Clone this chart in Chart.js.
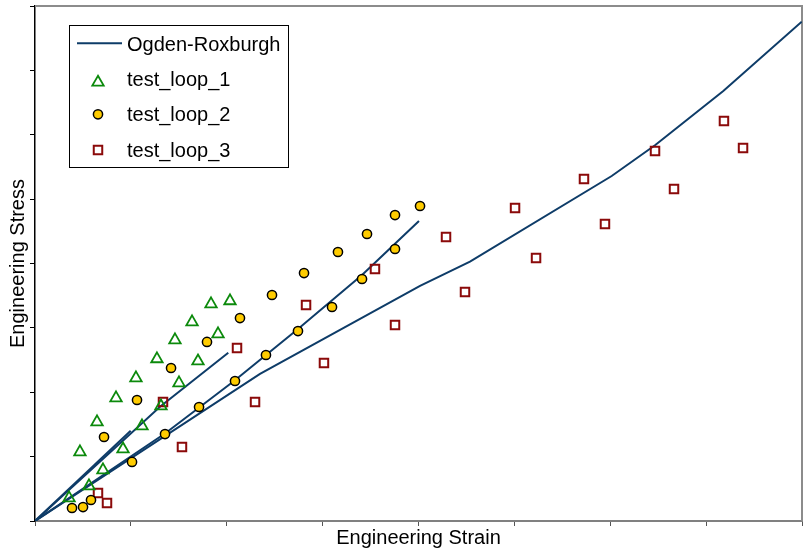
<!DOCTYPE html>
<html>
<head>
<meta charset="utf-8">
<script src="https://cdn.jsdelivr.net/npm/chart.js@4.4.1/dist/chart.umd.min.js"></script>
<style>
  html, body { margin: 0; padding: 0; background: #ffffff; }
  #wrap { position: relative; width: 804px; height: 556px; }
</style>
</head>
<body>
<div id="wrap"><canvas id="c" width="804" height="556"></canvas></div>
<script>
// ---------------- data ----------------
const xTitle = 'Engineering Strain';
const yTitle = 'Engineering Stress';
const xTickValues = [0, 1, 2, 3, 4, 5, 6, 7, 8];
const yTickValues = [0, 1, 2, 3, 4, 5, 6, 7, 8];

const modelLabel = 'Ogden-Roxburgh';
const model1Strain = [0, 0.998];
const model1Stress = [0, 1.403];
const model2Strain = [0, 1.304, 2.016];
const model2Stress = [0, 1.776, 2.614];
const model3Strain = [0, 1.363, 2.076, 2.743, 3.411, 4.005];
const model3Stress = [0, 1.367, 2.175, 2.983, 3.821, 4.660];
const model4Strain = [0, 2.347, 4.016, 4.537, 6.015, 6.470, 7.179, 7.997];
const model4Stress = [0, 2.284, 3.651, 4.028, 5.359, 5.841, 6.680, 7.756];

const loop1Label = 'test_loop_1';
const loop1Strain = [0.355, 0.469, 0.563, 0.647, 0.709, 0.845, 0.918, 1.053, 1.116, 1.272, 1.314, 1.460, 1.502, 1.638, 1.700, 1.836, 1.909, 2.034];
const loop1Stress = [0.357, 1.072, 0.544, 1.538, 0.792, 1.911, 1.118, 2.221, 1.476, 2.517, 1.786, 2.812, 2.144, 3.091, 2.485, 3.371, 2.905, 3.418];

const loop2Label = 'test_loop_2';
const loop2Strain = [0.386, 0.501, 0.584, 0.720, 1.012, 1.064, 1.356, 1.419, 1.711, 1.794, 2.086, 2.138, 2.409, 2.472, 2.743, 2.806, 3.098, 3.160, 3.411, 3.463, 3.755, 3.755, 4.016];
const loop2Stress = [0.202, 0.217, 0.326, 1.305, 0.917, 1.880, 1.351, 2.377, 1.771, 2.781, 2.175, 3.153, 2.579, 3.511, 2.951, 3.852, 3.324, 4.179, 3.759, 4.458, 4.753, 4.225, 4.893];

const loop3Label = 'test_loop_3';
const loop3Strain = [0.657, 0.751, 1.335, 1.533, 2.107, 2.295, 2.827, 3.014, 3.546, 3.755, 4.287, 4.485, 5.007, 5.226, 5.726, 5.945, 6.467, 6.665, 7.186, 7.385];
const loop3Stress = [0.435, 0.280, 1.849, 1.150, 2.687, 1.849, 3.355, 2.454, 3.915, 3.045, 4.412, 3.557, 4.862, 4.085, 5.313, 4.614, 5.748, 5.157, 6.214, 5.794];

// ---------------- styles ----------------
const FONT = '"Liberation Sans", Arial, Helvetica, sans-serif';
const lineColor = '#0e3c68';
const triColor = '#0c8a0c';
const circFill = '#ffcc00';
const sqColor = '#8b0a0a';

const pts = (xs, ys) => xs.map((x, i) => ({ x: x, y: ys[i] }));

const lineStyle = {
  type: 'scatter', showLine: true, borderColor: lineColor, backgroundColor: lineColor,
  borderWidth: 2, pointRadius: 0, pointHoverRadius: 0, tension: 0, fill: false
};

const datasets = [
  { label: loop2Label, data: pts(loop2Strain, loop2Stress), pointStyle: 'circle', pointRadius: 4.6,
    backgroundColor: circFill, borderColor: '#000000', borderWidth: 1.5, showLine: false },
  { label: loop1Label, data: pts(loop1Strain, loop1Stress), pointStyle: 'triangle', pointRadius: 6.6,
    backgroundColor: 'rgba(0,0,0,0)', borderColor: triColor, borderWidth: 1.8, showLine: false },
  { label: loop3Label, data: pts(loop3Strain, loop3Stress), pointStyle: 'rect', pointRadius: 6,
    backgroundColor: 'rgba(0,0,0,0)', borderColor: sqColor, borderWidth: 2, showLine: false },
  Object.assign({ label: modelLabel, data: pts(model1Strain, model1Stress) }, lineStyle),
  Object.assign({ label: modelLabel + ' 2', data: pts(model2Strain, model2Stress) }, lineStyle),
  Object.assign({ label: modelLabel + ' 3', data: pts(model3Strain, model3Stress) }, lineStyle),
  Object.assign({ label: modelLabel + ' 4', data: pts(model4Strain, model4Stress) }, lineStyle)
];

// legend entries (in display order) -> dataset index
const legendEntries = [
  { text: modelLabel, ds: 3, kind: 'line' },
  { text: loop1Label, ds: 1, kind: 'point' },
  { text: loop2Label, ds: 0, kind: 'point' },
  { text: loop3Label, ds: 2, kind: 'point' }
];

// frame: grey top and right border of the plot area
const framePlugin = {
  id: 'frame',
  beforeDatasetsDraw(chart) {
    const { ctx, chartArea: a } = chart;
    ctx.save();
    ctx.strokeStyle = '#8c8c8c';
    ctx.lineWidth = 2;
    ctx.beginPath();
    ctx.moveTo(a.left, a.top);
    ctx.lineTo(a.right, a.top);
    ctx.lineTo(a.right, a.bottom);
    ctx.stroke();
    ctx.restore();
  }
};

// boxed legend inside the plot area, top-left
const boxLegend = {
  id: 'boxLegend',
  afterDraw(chart) {
    const { ctx, chartArea: a } = chart;
    const L = a.left + 34, T = a.top + 19, W = 219, H = 142;
    ctx.save();
    ctx.fillStyle = '#ffffff';
    ctx.fillRect(L, T, W, H);
    ctx.strokeStyle = '#000000';
    ctx.lineWidth = 1;
    ctx.strokeRect(L + 0.5, T + 0.5, W, H);
    const markerY = [18.3, 57.3, 89.3, 125];
    const baseY = [25.7, 61, 95.8, 131.5];
    const mx = L + 29, tx = L + 58;
    ctx.font = '20px ' + FONT;
    ctx.textBaseline = 'alphabetic';
    ctx.textAlign = 'left';
    legendEntries.forEach((e, i) => {
      const ds = chart.data.datasets[e.ds];
      const y = T + markerY[i];
      if (e.kind === 'line') {
        ctx.strokeStyle = ds.borderColor;
        ctx.lineWidth = ds.borderWidth;
        ctx.beginPath();
        ctx.moveTo(L + 8, y);
        ctx.lineTo(L + 53, y);
        ctx.stroke();
      } else {
        ctx.fillStyle = ds.backgroundColor;
        ctx.strokeStyle = ds.borderColor;
        ctx.lineWidth = ds.borderWidth;
        Chart.helpers.drawPoint(ctx, { pointStyle: ds.pointStyle, radius: ds.pointRadius,
          borderWidth: ds.borderWidth, rotation: 0 }, mx, y);
      }
      ctx.fillStyle = '#000000';
      ctx.fillText(e.text, tx, T + baseY[i]);
    });
    ctx.restore();
  }
};

new Chart(document.getElementById('c'), {
  type: 'scatter',
  data: { datasets: datasets },
  options: {
    responsive: false,
    animation: false,
    events: [],
    layout: { autoPadding: false, padding: { top: 6, right: 2, left: 0, bottom: 0 } },
    plugins: { legend: { display: false }, tooltip: { enabled: false } },
    scales: {
      x: {
        type: 'linear', min: 0, max: 8,
        afterBuildTicks: s => { s.ticks = xTickValues.map(v => ({ value: v })); },
        ticks: { display: false },
        grid: { drawOnChartArea: false, drawTicks: true, tickLength: 5, color: '#555555', lineWidth: 1 },
        border: { display: true, color: '#808080', width: 2 },
        title: { display: true, text: xTitle, color: '#000000',
                 font: { family: FONT, size: 20 }, padding: { top: 0, bottom: 6 } }
      },
      y: {
        type: 'linear', min: 0, max: 8,
        afterBuildTicks: s => { s.ticks = yTickValues.map(v => ({ value: v })); },
        ticks: { display: false },
        grid: { drawOnChartArea: false, drawTicks: true, tickLength: 5, color: '#000000', lineWidth: 1 },
        border: { display: true, color: '#000000', width: 1.5 },
        title: { display: true, text: yTitle, color: '#000000',
                 font: { family: FONT, size: 20 }, padding: { top: 6, bottom: 0 } }
      }
    }
  },
  plugins: [framePlugin, boxLegend]
});
</script>
</body>
</html>
